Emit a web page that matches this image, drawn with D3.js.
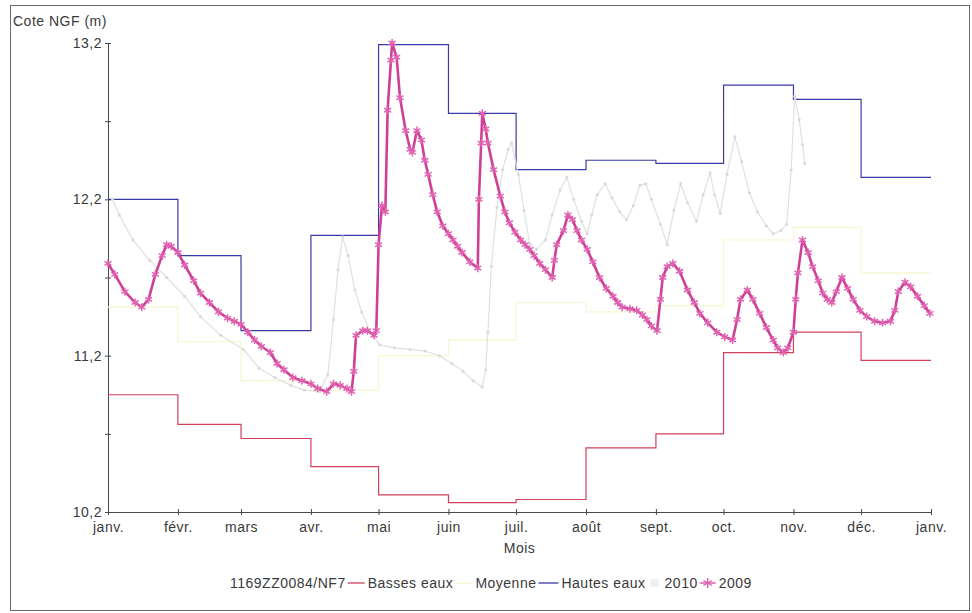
<!DOCTYPE html>
<html>
<head>
<meta charset="utf-8">
<script src="https://cdn.jsdelivr.net/npm/d3@7"></script>
<style>
  html, body { margin: 0; padding: 0; background: #fff; }
  svg { display: block; }
  text { font-family: "Liberation Sans", Arial, sans-serif; fill: #3a3a3a; }
</style>
</head>
<body>
<svg id="chart" width="972" height="613"></svg>
<script>
// Month labels on the time axis (plus closing January)
const monthLabels = ["janv.", "févr.", "mars", "avr.", "mai", "juin", "juil.", "août", "sept.", "oct.", "nov.", "déc.", "janv."];
// Y-axis ticks (labelled) and minor ticks
const yMajorTicks = [10.2, 11.2, 12.2, 13.2];
const yMinorTicks = [10.7, 11.7, 12.7];

// Monthly reference levels (m NGF), January .. December
const bassesEaux = [10.95, 10.76, 10.67, 10.49, 10.31, 10.26, 10.28, 10.61, 10.70, 11.22, 11.35, 11.17];
const moyenne    = [11.51, 11.29, 11.04, 10.98, 11.20, 11.30, 11.54, 11.48, 11.52, 11.94, 12.02, 11.73];
const hautesEaux = [12.20, 11.84, 11.36, 11.97, 13.19, 12.75, 12.39, 12.45, 12.43, 12.93, 12.84, 12.34];

// Year 2010: [day of year, level]
const serie2010 = [
  [2,12.2],[5,12.1],[11,11.94],[18.5,11.81],[26,11.7],[34,11.58],[41,11.45],[50,11.33],
  [60,11.24],[67,11.12],[74,11.06],[81,11.01],[87,10.98],[94,10.97],[97.5,11.08],[100,11.43],
  [102,11.75],[104,11.96],[106.5,11.84],[109.5,11.62],[112.5,11.48],[116,11.36],[120.5,11.27],
  [127,11.25],[134,11.24],[140.5,11.23],[147,11.2],[152.5,11.15],[157.5,11.1],[162,11.04],
  [166,11.0],[167.5,11.11],[168.5,11.35],[170,11.77],[172.5,12.15],[175,12.39],[177.5,12.52],
  [179,12.56],[182,12.36],[184.5,12.13],[187,11.92],[190,11.88],[194,11.94],[197,12.1],
  [200.5,12.26],[203.5,12.34],[206.5,12.2],[210,12.06],[212.5,11.98],[214.5,12.1],[217,12.23],
  [220.5,12.3],[223.5,12.21],[227,12.12],[230,12.07],[233,12.16],[236,12.29],[238.5,12.3],
  [241,12.2],[245,12.04],[248,11.91],[251,12.13],[254,12.3],[257,12.18],[261,12.06],
  [264,12.23],[267,12.37],[269,12.23],[271.5,12.11],[274.5,12.36],[278,12.6],[281,12.44],
  [284.5,12.24],[288,12.12],[292,12.03],[295,11.98],[298.5,12.0],[301,12.04],[303,12.39],
  [304.5,12.86],[306.5,12.71],[308,12.55],[309,12.43]
];

// Year 2009: [day of year, level]
const serie2009 = [
  [0,11.79],[3,11.72],[7.5,11.61],[12,11.54],[15,11.51],[18,11.56],[21,11.72],[24,11.84],
  [26,11.91],[28,11.9],[31,11.86],[34,11.78],[38,11.68],[41,11.6],[45,11.54],[49,11.48],
  [53,11.44],[56,11.42],[59,11.4],[62,11.35],[65,11.3],[68,11.26],[72,11.22],[75,11.15],
  [78,11.11],[82,11.06],[86,11.04],[90,11.02],[93,10.99],[97,10.97],[100,11.02],[103,11.01],
  [106,10.99],[108,10.97],[109,11.1],[110,11.33],[113,11.36],[115,11.36],[118,11.33],
  [119,11.36],[120,11.91],[121.5,12.16],[123,12.12],[124,12.77],[125.5,13.09],[126,13.2],
  [128,13.11],[129.5,12.85],[132,12.64],[134,12.52],[135,12.5],[137,12.64],[139,12.58],
  [140.5,12.45],[142,12.36],[144,12.23],[146,12.12],[148.5,12.03],[151,11.98],[153,11.94],
  [155,11.9],[157,11.86],[160.5,11.8],[164,11.76],[164.5,12.2],[165.5,12.56],[166,12.75],
  [167.5,12.65],[168.5,12.56],[171,12.39],[174,12.22],[176,12.12],[178,12.05],[180.5,11.99],
  [183,11.94],[185,11.91],[187,11.88],[189,11.84],[191.5,11.79],[194,11.75],[197,11.7],
  [198,11.81],[199,11.91],[202,12.0],[204,12.1],[206,12.07],[208,12.0],[210,11.94],
  [212.5,11.88],[215,11.8],[218,11.7],[221,11.63],[224,11.58],[226,11.54],[228,11.51],
  [231.5,11.5],[234.5,11.49],[237,11.46],[239,11.43],[241,11.39],[243.5,11.36],[245,11.56],
  [246,11.7],[248,11.77],[250.5,11.79],[253.5,11.74],[257,11.62],[260,11.54],[262.5,11.47],
  [266,11.41],[270,11.35],[273.5,11.32],[277,11.3],[279,11.43],[280.5,11.56],[283.5,11.62],
  [286,11.56],[289,11.47],[292,11.38],[295,11.3],[297,11.25],[299.5,11.22],[301.5,11.25],
  [304,11.35],[305,11.56],[306,11.73],[308,11.94],[310.5,11.86],[312.5,11.77],[315,11.68],
  [317,11.6],[319,11.56],[321,11.54],[323,11.61],[325.5,11.7],[328,11.63],[330.5,11.56],
  [333.5,11.49],[336.5,11.45],[340,11.42],[343.5,11.41],[347,11.42],[349,11.49],[350.5,11.61],
  [353.5,11.67],[356,11.64],[359,11.58],[362,11.52],[364.5,11.47]
];

const svg = d3.select("#chart");
const yearStart = new Date(2009, 0, 1);
const yearEnd = new Date(2010, 0, 1);
const dayToDate = d => new Date(yearStart.getTime() + d * 86400000);

const plot = { left: 108, right: 931, top: 43, bottom: 512 };
const x = d3.scaleTime().domain([yearStart, yearEnd]).range([plot.left, plot.right]);
const y = d3.scaleLinear().domain([10.2, 13.2]).range([plot.bottom, plot.top]);

const fontSize = 14;
const letterSp = "0.5px";

// Outer frame
svg.append("rect")
  .attr("x", 10.5).attr("y", 5.5).attr("width", 959).attr("height", 605)
  .attr("fill", "none").attr("stroke", "#6a6a6a").attr("stroke-width", 1);

// Axes
const monthStarts = d3.range(13).map(i => new Date(2009, i, 1));
const xAxis = d3.axisBottom(x)
  .tickValues(monthStarts)
  .tickFormat((d, i) => monthLabels[i])
  .tickSizeInner(3).tickSizeOuter(0).tickPadding(7);
const gx = svg.append("g").attr("transform", `translate(0,${plot.bottom})`).call(xAxis);
gx.selectAll(".tick line").attr("y1", -3).attr("y2", 3);

const yAxis = d3.axisLeft(y)
  .tickValues(yMajorTicks.concat(yMinorTicks))
  .tickFormat(d => yMajorTicks.includes(d) ? d.toFixed(1).replace(".", ",") : "")
  .tickSizeInner(3).tickSizeOuter(0).tickPadding(3);
const gy = svg.append("g").attr("transform", `translate(${plot.left},0)`).call(yAxis);
gy.selectAll(".tick line").attr("x1", -3).attr("x2", 3);

[gx, gy].forEach(g => {
  g.select(".domain").attr("stroke", "#4a4a4a");
  g.selectAll(".tick line").attr("stroke", "#4a4a4a");
  g.selectAll("text").attr("font-size", fontSize).attr("font-family", "Liberation Sans, Arial, sans-serif")
    .attr("fill", "#3a3a3a").style("letter-spacing", letterSp);
});

// Axis titles
svg.append("text").attr("x", 13).attr("y", 26).attr("font-size", fontSize)
  .style("letter-spacing", letterSp).text("Cote NGF (m)");
svg.append("text").attr("x", (plot.left + plot.right) / 2).attr("y", 553)
  .attr("text-anchor", "middle").attr("font-size", fontSize)
  .style("letter-spacing", letterSp).text("Mois");

// Monthly step series
const stepLine = d3.line()
  .x(d => x(d[0])).y(d => y(d[1]))
  .curve(d3.curveStepAfter);
const stepPoints = vals => vals.map((v, i) => [new Date(2009, i, 1), v]).concat([[yearEnd, vals[vals.length - 1]]]);

const colBasses = "#d2405e";
const colMoyenne = "#f6f6cf";
const colHautes = "#3a3aa6";
const col2010 = "#e0e0e0";
const col2009line = "#cf3f96";
const col2009mark = "#e062b2";

svg.append("path").attr("d", stepLine(stepPoints(moyenne)))
  .attr("fill", "none").attr("stroke", colMoyenne).attr("stroke-width", 1.2);
svg.append("path").attr("d", stepLine(stepPoints(bassesEaux)))
  .attr("fill", "none").attr("stroke", colBasses).attr("stroke-width", 1.2);
svg.append("path").attr("d", stepLine(stepPoints(hautesEaux)))
  .attr("fill", "none").attr("stroke", colHautes).attr("stroke-width", 1.2);

// Daily series
const dayLine = d3.line().x(d => x(dayToDate(d[0]))).y(d => y(d[1]));

svg.append("path").attr("d", dayLine(serie2010))
  .attr("fill", "none").attr("stroke", col2010).attr("stroke-width", 1.2);
svg.append("g").selectAll("circle").data(serie2010).join("circle")
  .attr("cx", d => x(dayToDate(d[0]))).attr("cy", d => y(d[1])).attr("r", 1.5)
  .attr("fill", "#d8d8d8");

svg.append("path").attr("d", dayLine(serie2009))
  .attr("fill", "none").attr("stroke", col2009line).attr("stroke-width", 2.6)
  .attr("stroke-linejoin", "round");
const asterisk = d3.symbol().type(d3.symbolAsterisk).size(45);
svg.append("g").selectAll("path").data(serie2009).join("path")
  .attr("transform", d => `translate(${x(dayToDate(d[0]))},${y(d[1])})`)
  .attr("d", asterisk)
  .attr("fill", "none").attr("stroke", col2009mark).attr("stroke-width", 1.5);

// Legend
const legendY = 583;
const lg = svg.append("g");
let lx = 230;
function legendText(str) {
  const t = lg.append("text").attr("x", lx).attr("y", legendY + 5).attr("font-size", fontSize)
    .style("letter-spacing", letterSp).text(str);
  lx += t.node().getComputedTextLength() + 2;
}
function legendLine(color, w) {
  lg.append("line").attr("x1", lx).attr("x2", lx + w).attr("y1", legendY).attr("y2", legendY)
    .attr("stroke", color).attr("stroke-width", 1.3);
  lx += w + 3;
}
legendText("1169ZZ0084/NF7");
legendLine(colBasses, 17);
legendText("Basses eaux");
legendLine(colMoyenne, 17);
legendText("Moyenne");
legendLine(colHautes, 20);
legendText("Hautes eaux");
lx += 3;
lg.append("rect").attr("x", lx).attr("y", legendY - 4).attr("width", 8).attr("height", 8).attr("fill", "#efefef");
lx += 14;
legendText("2010");
lg.append("line").attr("x1", lx).attr("x2", lx + 16).attr("y1", legendY).attr("y2", legendY)
  .attr("stroke", col2009line).attr("stroke-width", 1.2);
lg.append("path").attr("transform", `translate(${lx + 8},${legendY})`)
  .attr("d", d3.symbol().type(d3.symbolAsterisk).size(70))
  .attr("fill", "none").attr("stroke", col2009mark).attr("stroke-width", 1.4);
lx += 19;
legendText("2009");
</script>
</body>
</html>
